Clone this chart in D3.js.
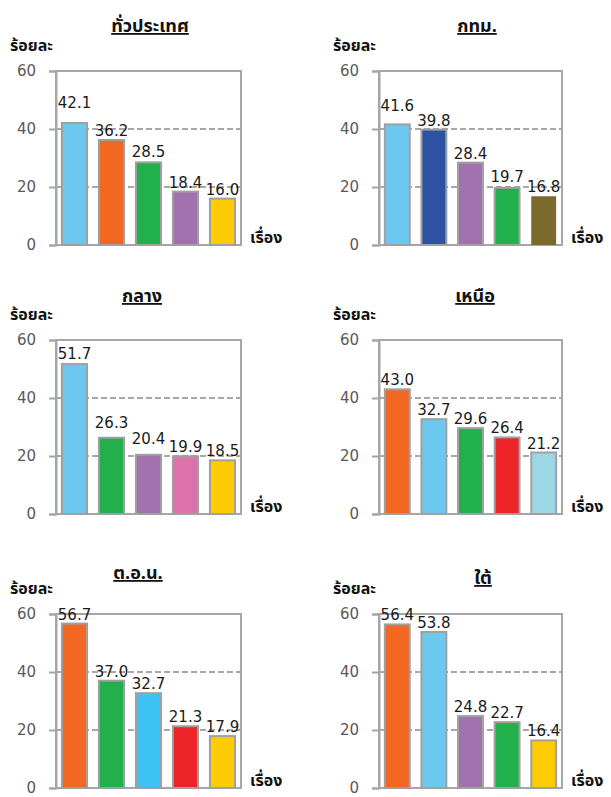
<!DOCTYPE html>
<html><head><meta charset="utf-8">
<script src="https://cdn.jsdelivr.net/npm/d3@7"></script>
<style>
html,body{margin:0;padding:0;background:#fff;}
svg{display:block;}
</style></head>
<body>
<svg id="chart" width="611" height="797"></svg>
<script>
// ---- data ----
const regionTitles = ["ทั่วประเทศ", "กทม.", "กลาง", "เหนือ", "ต.อ.น.", "ใต้"];
const yTicks = [0, 20, 40, 60];
const yAxisTitle = "ร้อยละ";
const xAxisTitle = "เรื่อง";

const valuesNational  = [42.1, 36.2, 28.5, 18.4, 16.0];
const valuesBangkok   = [41.6, 39.8, 28.4, 19.7, 16.8];
const valuesCentral   = [51.7, 26.3, 20.4, 19.9, 18.5];
const valuesNorth     = [43.0, 32.7, 29.6, 26.4, 21.2];
const valuesNortheast = [56.7, 37.0, 32.7, 21.3, 17.9];
const valuesSouth     = [56.4, 53.8, 24.8, 22.7, 16.4];

// topic keys for each bar (colour identifies topic)
const topicsNational  = ["lightblue", "orange", "green", "purple", "yellow"];
const topicsBangkok   = ["lightblue", "darkblue", "purple", "green", "olive"];
const topicsCentral   = ["lightblue", "green", "purple", "pink", "yellow"];
const topicsNorth     = ["orange", "lightblue", "green", "red", "paleblue"];
const topicsNortheast = ["orange", "green", "cyan", "red", "yellow"];
const topicsSouth     = ["orange", "lightblue", "purple", "green", "yellow"];

// ---- styles / layout ----
const topicColor = {
  lightblue: "#6DC8EF", orange: "#F26722", green: "#21B04B", purple: "#A272AE",
  yellow: "#FFCB05", darkblue: "#2D52A3", olive: "#7A6A2B", pink: "#DC72AC",
  red: "#EC2327", paleblue: "#9DD7E6", cyan: "#3DC3F1"
};
const panelValues = [valuesNational, valuesBangkok, valuesCentral, valuesNorth, valuesNortheast, valuesSouth];
const panelTopics = [topicsNational, topicsBangkok, topicsCentral, topicsNorth, topicsNortheast, topicsSouth];
const colLeft = [56, 379], colWidth = [185, 183];
const rowTop = [71, 340, 614], plotH = 174;
const titleX = [150, 477, 142, 475, 138, 483];
const titleY = [32, 32, 302, 302, 579, 584];
const labelNudge = [[11,0,1,0,0],[9,0,0,2,0],[1,6,7,0,0],[0,0,0,0,0],[0,0,0,0,0],[0,0,0,0,0]];

const thaiFont = "Tahoma, 'Noto Sans Thai', 'Leelawadee UI', 'Garuda', 'Loma', 'Noto Sans', sans-serif";
const numFont = "'DejaVu Sans', Verdana, sans-serif";
const frameGray = "#a6a6a6", gridGray = "#8c8c8c";

const svg = d3.select("#chart");

regionTitles.forEach((title, i) => {
  const col = i % 2, row = Math.floor(i / 2);
  const left = colLeft[col], width = colWidth[col];
  const top = rowTop[row], bottom = top + plotH;
  const vals = panelValues[i], topics = panelTopics[i];

  const x = d3.scaleBand().domain(d3.range(vals.length))
    .range([left, left + width]).paddingInner(0.32).paddingOuter(0.16);
  const y = d3.scaleLinear().domain([0, 60]).range([bottom, top]);

  const g = svg.append("g");

  // gridlines
  g.selectAll("line.grid").data(yTicks.filter(t => t > 0 && t < 60)).join("line")
    .attr("x1", left).attr("x2", left + width)
    .attr("y1", d => y(d)).attr("y2", d => y(d))
    .attr("stroke", gridGray).attr("stroke-width", 1.5).attr("stroke-dasharray", "6,3");

  // frame
  g.append("rect").attr("x", left).attr("y", y(60)).attr("width", width).attr("height", y(0) - y(60))
    .attr("fill", "none").attr("stroke", frameGray).attr("stroke-width", 2);

  // y axis
  const axis = d3.axisLeft(y).tickValues(yTicks).tickSize(7).tickPadding(13).tickFormat(d3.format("d"));
  const ag = g.append("g").attr("transform", `translate(${left},0)`).call(axis);
  ag.select(".domain").attr("stroke", frameGray).attr("stroke-width", 2);
  ag.selectAll(".tick line").attr("stroke", frameGray).attr("stroke-width", 2);
  ag.selectAll(".tick text").attr("fill", "#595959").style("font-family", numFont).style("font-size", "15px");

  // bars
  g.selectAll("rect.bar").data(vals).join("rect")
    .attr("x", (d, j) => x(j)).attr("width", x.bandwidth())
    .attr("y", d => y(d)).attr("height", d => y(0) - y(d))
    .attr("fill", (d, j) => topicColor[topics[j]])
    .attr("stroke", (d, j) => topics[j] === "olive" ? "none" : "#a0a0a0")
    .attr("stroke-width", 2);

  // value labels
  g.selectAll("text.val").data(vals).join("text")
    .attr("x", (d, j) => x(j) + x.bandwidth() / 2)
    .attr("y", (d, j) => y(d) - 4 - labelNudge[i][j])
    .attr("text-anchor", "middle")
    .style("font-family", numFont).style("font-size", "15px").attr("fill", "#1a1a1a")
    .text(d => d.toFixed(1));

  // title
  g.append("text").attr("x", titleX[i]).attr("y", titleY[i]).attr("text-anchor", "middle")
    .style("font-family", thaiFont).style("font-size", "18px").style("font-weight", "bold")
    .style("text-decoration", "underline").attr("fill", "#111").text(title);

  // y axis title
  g.append("text").attr("x", left - 46).attr("y", top - 20)
    .style("font-family", thaiFont).style("font-size", "16px").style("font-weight", "bold")
    .attr("fill", "#111").text(yAxisTitle);

  // x axis title
  g.append("text").attr("x", left + width + 9).attr("y", bottom - 2)
    .style("font-family", thaiFont).style("font-size", "16px").style("font-weight", "bold")
    .attr("fill", "#111").text(xAxisTitle);
});
</script>
</body></html>
